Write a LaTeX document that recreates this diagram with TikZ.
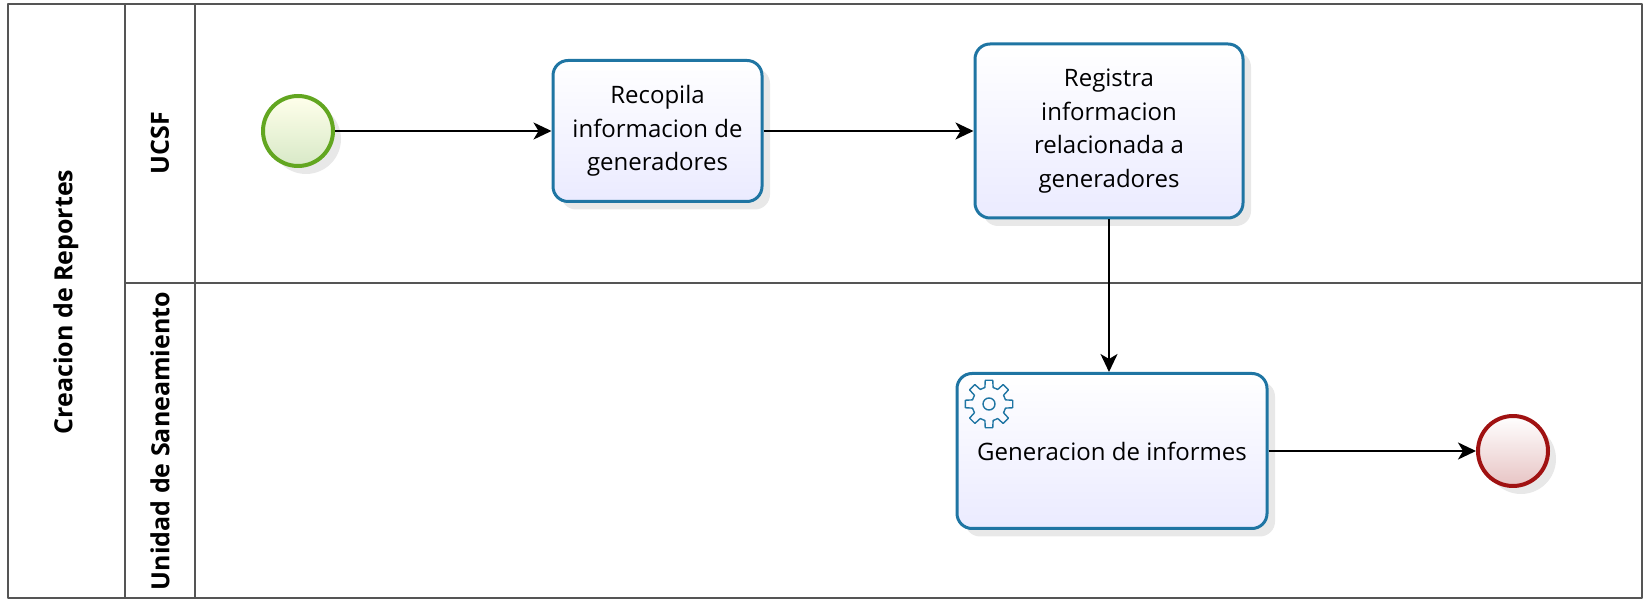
\documentclass[tikz,border=0pt]{standalone}
\usepackage{fontspec}
\setmainfont{Open Sans}
\usetikzlibrary{arrows.meta,shadows}
\definecolor{taskblue}{RGB}{31,117,163}
\definecolor{startgreen}{RGB}{98,166,32}
\definecolor{endred}{RGB}{160,18,18}
\definecolor{laneline}{RGB}{85,85,85}
\begin{document}
\begin{tikzpicture}[x=.5pt, y=-.5pt, line join=round, >={Stealth[length=9pt,width=8.5pt,inset=2.5pt]},
	font=\fontsize{12}{16.8}\selectfont,
	task/.style={draw=taskblue, line width=1.5pt, rounded corners=7.5pt, top color=white, bottom color=blue!8,
		align=center, inner sep=0pt, drop shadow={opacity=.18, shadow xshift=4pt, shadow yshift=-4pt}},
	event/.style={circle, line width=2pt, minimum size=35pt, inner sep=0pt,
		drop shadow={opacity=.18, shadow xshift=4pt, shadow yshift=-4pt}},
	lanetext/.style={rotate=90, font=\fontsize{12.5}{15}\selectfont\bfseries},
	flow/.style={->, line width=1pt}]
	\useasboundingbox (0,0) rectangle (1643,603);
	\def\xa{125} \def\xb{195} \def\yl{283}
	% pool and lanes
	\draw[laneline, line width=1pt] (8,4) rectangle (1642,598);
	\draw[laneline, line width=1pt] (\xa,4)--(\xa,598) (\xb,4)--(\xb,598) (\xa,\yl)--(1642,\yl);
	\node[lanetext] (pool) at (66,302) {Creacion de Reportes};
	\node[lanetext] (ucsf) at (160,143) {UCSF};
	\node[lanetext] (unidad) at (160,441) {Unidad de Saneamiento};
	% events and tasks
	\node[event, draw=startgreen, top color=white!60!yellow!20, bottom color=startgreen!25] (start) at (298,131) {};
	\node[task, minimum width=104.5pt, minimum height=70.5pt] (recopila) at (657.5,131) {Recopila\\informacion de\\generadores};
	\node[task, minimum width=134pt, minimum height=87pt] (registra) at (1109,131) {Registra\\informacion\\relacionada a\\generadores};
	\node[task, minimum width=155pt, minimum height=77.5pt] (genera) at (1112,451) {Generacion de informes};
	\node[event, draw=endred, top color=white, bottom color=endred!25] (fin) at (1513,451) {};
	% service icon
	\begin{scope}[shift={(989,404)}, draw=taskblue, line width=.7pt]
		\draw (-14:17) \foreach \a in {0,45,...,315}{ -- (\a-14:17) -- (\a-9:24) -- (\a+9:24) -- (\a+14:17)} -- cycle;
		\draw (0,0) circle (6);
	\end{scope}
	% flows
	\draw[flow] (start) -- (recopila);
	\draw[flow] (recopila) -- (registra);
	\draw[flow] (registra.south) -- (registra.south |- genera.north);
	\draw[flow] (genera) -- (fin);
\end{tikzpicture}
\end{document}
